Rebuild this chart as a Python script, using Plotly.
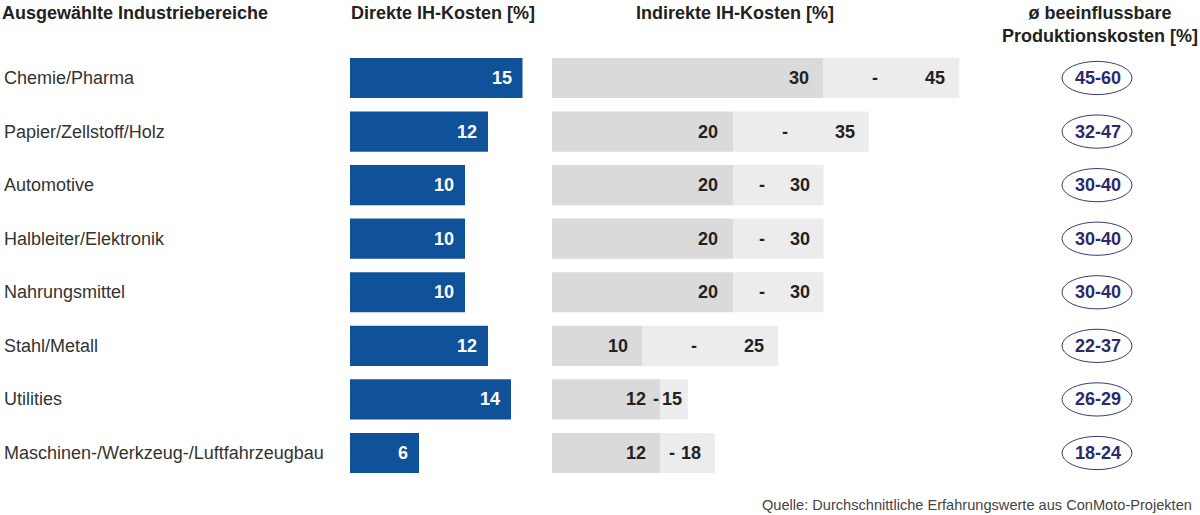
import plotly.graph_objects as go

categories = ["Chemie/Pharma", "Papier/Zellstoff/Holz", "Automotive", "Halbleiter/Elektronik",
              "Nahrungsmittel", "Stahl/Metall", "Utilities", "Maschinen-/Werkzeug-/Luftfahrzeugbau"]
direct = [15, 12, 10, 10, 10, 12, 14, 6]
indirect_low = [30, 20, 20, 20, 20, 10, 12, 12]
indirect_high = [45, 35, 30, 30, 30, 25, 15, 18]
prod_low = [45, 32, 30, 30, 30, 22, 26, 18]
prod_high = [60, 47, 40, 40, 40, 37, 29, 24]

W, H = 1200, 515
FONT = "Liberation Sans"
BLUE = "#10529a"
DARK_GRAY = "#dadada"
LIGHT_GRAY = "#ececec"
NAVY = "#2c2a6e"
TEXT = "#333333"

PX_DIRECT = 11.5   # pixels per percent, direct axis
PX_INDIRECT = 9.05  # pixels per percent, indirect axis

fig = go.Figure()

fig.add_trace(go.Bar(
    y=categories, x=direct, orientation="h", xaxis="x", yaxis="y",
    marker=dict(color=BLUE, line=dict(width=0)), width=0.75, hoverinfo="skip"))
fig.add_trace(go.Bar(
    y=categories, x=indirect_low, base=[0] * len(categories), orientation="h", xaxis="x2", yaxis="y",
    marker=dict(color=DARK_GRAY, line=dict(width=0)), width=0.75, hoverinfo="skip"))
fig.add_trace(go.Bar(
    y=categories, x=[h - l for l, h in zip(indirect_low, indirect_high)], base=indirect_low,
    orientation="h", xaxis="x2", yaxis="y",
    marker=dict(color=LIGHT_GRAY, line=dict(width=0)), width=0.75, hoverinfo="skip"))

ann = []
shapes = []
vfont = dict(family=FONT, size=18, color="#222222")
for i, cat in enumerate(categories):
    lo, hi = indirect_low[i], indirect_high[i]
    narrow = (hi - lo) * PX_INDIRECT < 40
    ann.append(dict(xref="paper", yref="y", x=2 / W, y=cat, xanchor="left", yanchor="middle",
                    text=cat, showarrow=False, font=dict(family=FONT, size=18, color=TEXT)))
    ann.append(dict(xref="x", yref="y", x=direct[i], y=cat, xanchor="right", yanchor="middle",
                    xshift=-9, text=f"<b>{direct[i]}</b>", showarrow=False,
                    font=dict(family=FONT, size=18, color="white")))
    ann.append(dict(xref="x2", yref="y", x=lo, y=cat, xanchor="right", yanchor="middle",
                    xshift=-13, text=f"<b>{lo}</b>", showarrow=False, font=vfont))
    if narrow:
        dash = dict(x=lo, xshift=-5)
    else:
        dash = dict(x=(lo + hi) / 2, xshift=-16)
    ann.append(dict(xref="x2", yref="y", y=cat, xanchor="center", yanchor="middle",
                    text="<b>-</b>", showarrow=False, font=vfont, **dash))
    ann.append(dict(xref="x2", yref="y", x=hi, y=cat, xanchor="right", yanchor="middle",
                    xshift=-4 if narrow else -12, text=f"<b>{hi}</b>", showarrow=False, font=vfont))
    shapes.append(dict(type="circle", xref="paper", yref="y", x0=1062 / W, x1=1132 / W,
                       y0=i - 0.31, y1=i + 0.31, line=dict(color="#3a3a78", width=1), fillcolor="white"))
    ann.append(dict(xref="paper", yref="y", x=1097.5 / W, y=cat, xanchor="center", yanchor="middle",
                    text=f"<b>{prod_low[i]}-{prod_high[i]}</b>", showarrow=False,
                    font=dict(family=FONT, size=18, color=NAVY)))

hdr = dict(family=FONT, size=18, color="#222222")
ann += [
    dict(xref="paper", yref="paper", x=0, y=1 - 13 / H, xanchor="left", yanchor="middle",
         text="<b>Ausgewählte Industriebereiche</b>", showarrow=False, font=hdr),
    dict(xref="paper", yref="paper", x=349 / W, y=1 - 13 / H, xanchor="left", yanchor="middle",
         text="<b>Direkte IH-Kosten [%]</b>", showarrow=False, font=hdr),
    dict(xref="paper", yref="paper", x=735 / W, y=1 - 13 / H, xanchor="center", yanchor="middle",
         text="<b>Indirekte IH-Kosten [%]</b>", showarrow=False, font=hdr),
    dict(xref="paper", yref="paper", x=1100 / W, y=1 - 1 / H, xanchor="center", yanchor="top",
         text="<b>ø beeinflussbare<br>Produktionskosten [%]</b>", showarrow=False, font=hdr),
    dict(xref="paper", yref="paper", x=1194 / W, y=1 - 505 / H, xanchor="right", yanchor="middle",
         text="Quelle: Durchschnittliche Erfahrungswerte aus ConMoto-Projekten", showarrow=False,
         font=dict(family=FONT, size=14.6, color="#444444")),
]

px_row = 53.57
y0px = 78
yr_top = -y0px / px_row
yr_bot = 7 + (H - (y0px + 7 * px_row)) / px_row

fig.update_layout(
    width=W, height=H, margin=dict(l=0, r=0, t=0, b=0),
    paper_bgcolor="white", plot_bgcolor="white", showlegend=False, barmode="overlay",
    xaxis=dict(domain=[350 / W, 540 / W], range=[0, 190 / PX_DIRECT], visible=False, fixedrange=True),
    xaxis2=dict(domain=[552 / W, 1000 / W], range=[0, 448 / PX_INDIRECT], visible=False, anchor="y",
                fixedrange=True),
    yaxis=dict(domain=[0, 1], type="category", categoryarray=categories,
               range=[yr_bot, yr_top], visible=False, fixedrange=True),
    annotations=ann, shapes=shapes,
)

fig.write_html("out.html", config={"displayModeBar": False},
               post_script="document.body.style.margin='0';document.body.style.overflow='hidden';")
